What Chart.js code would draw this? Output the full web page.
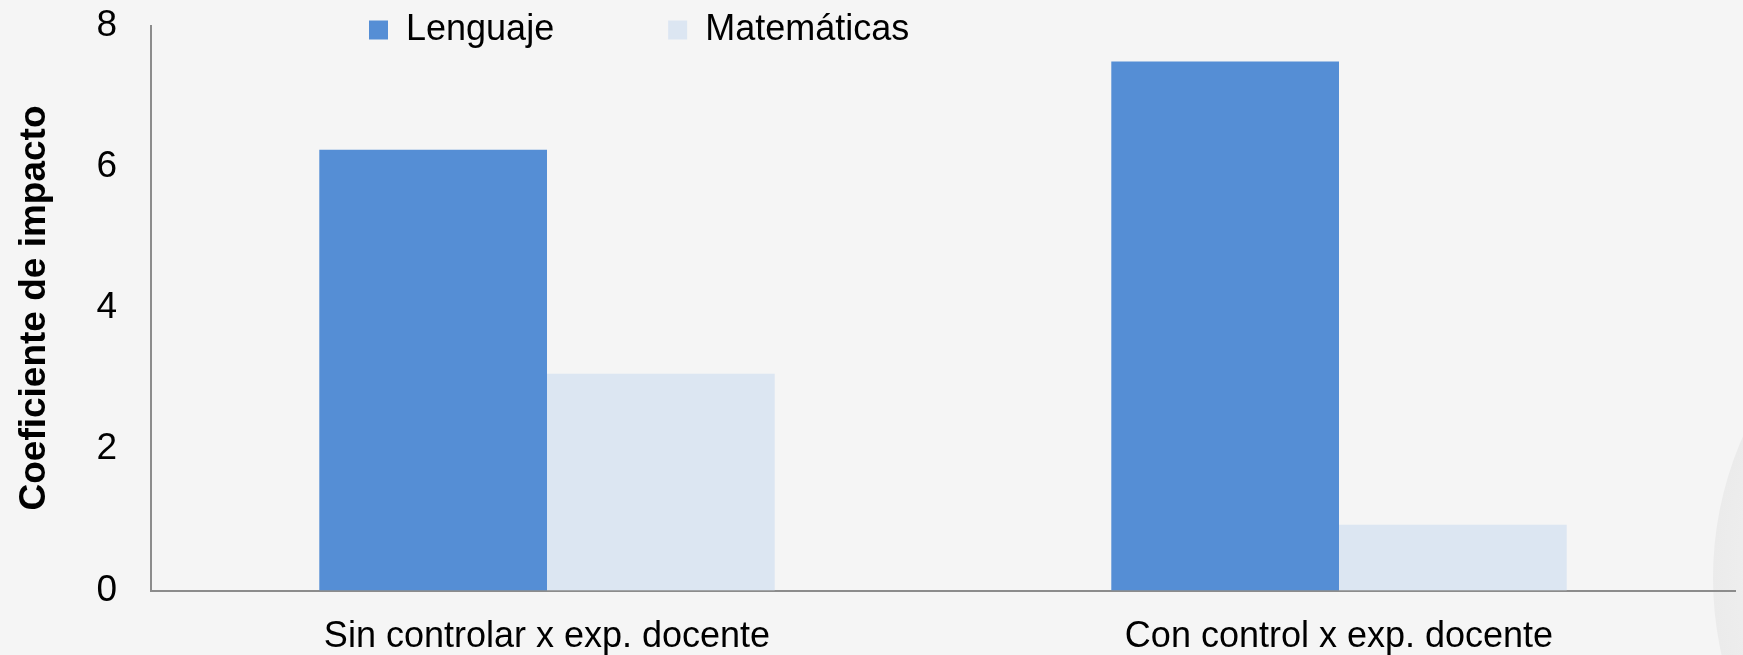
<!DOCTYPE html>
<html>
<head>
<meta charset="utf-8">
<script src="https://cdn.jsdelivr.net/npm/chart.js@4/dist/chart.umd.min.js"></script>
<style>
  html, body { margin: 0; padding: 0; background: #f5f5f5; }
  #wrap { width: 1743px; height: 655px; }
</style>
</head>
<body>
<div id="wrap"><canvas id="chart" width="1743" height="655"></canvas></div>
<script>
const categories = ['Sin controlar x exp. docente', 'Con control x exp. docente']
const lenguaje = [6.24, 7.49]
const matematicas = [3.07, 0.93]
const yTicks = [0, 2, 4, 6, 8]

Chart.defaults.font.family = "'Liberation Sans', Arial, sans-serif"
Chart.defaults.color = '#000'

// slide background with the faint round shape on the right edge
const backdrop = {
  id: 'backdrop',
  beforeDraw(chart) {
    const ctx = chart.ctx
    ctx.save()
    ctx.fillStyle = '#f5f5f5'
    ctx.fillRect(0, 0, chart.width, chart.height)
    const cx = chart.width + 320, cy = 578, r = 350
    const g = ctx.createRadialGradient(cx, cy, r * 0.6, cx, cy, r)
    g.addColorStop(0, '#f6f6f6')
    g.addColorStop(1, '#ebebeb')
    ctx.fillStyle = g
    ctx.beginPath()
    ctx.arc(cx, cy, r, 0, Math.PI * 2)
    ctx.fill()
    ctx.restore()
  }
}

// legend sits over the plot, left of centre, with a wide gap between items
const legendSpot = {
  id: 'legendSpot',
  afterLayout(chart) {
    const lg = chart.legend
    const pad = lg.options.labels.padding
    lg.left = 369 - pad
    lg.right = chart.width
    lg.top = 12 - pad
    lg.bottom = 70
  }
}

new Chart(document.getElementById('chart'), {
  type: 'bar',
  data: {
    labels: categories,
    datasets: [
      { label: 'Lenguaje', data: lenguaje, backgroundColor: '#558ed5' },
      { label: 'Matemáticas', data: matematicas, backgroundColor: '#dce6f2' }
    ]
  },
  options: {
    responsive: false,
    animation: false,
    layout: { padding: { left: 0, right: 8, top: 0, bottom: 0 } },
    datasets: {
      bar: { barPercentage: 1, categoryPercentage: 0.575 }
    },
    plugins: {
      tooltip: { enabled: false },
      legend: {
        position: 'top',
        align: 'start',
        maxHeight: 25.5,
        labels: {
          boxWidth: 19,
          boxHeight: 19,
          padding: 114,
          font: { size: 36 },
          color: '#000'
        }
      }
    },
    scales: {
      x: {
        grid: { display: false, drawTicks: false },
        border: { display: true, color: '#8c8c8c', width: 2 },
        ticks: { padding: 27, font: { size: 36, lineHeight: 1.1 }, color: '#000' },
        afterFit(scale) {
          scale.height = 64.5
          scale.paddingLeft = 0
          scale.paddingRight = 0
        }
      },
      y: {
        min: 0,
        max: 8,
        afterBuildTicks(scale) {
          scale.ticks = yTicks.map(v => ({ value: v }))
        },
        grid: { display: false, drawTicks: false },
        border: { display: true, color: '#8c8c8c', width: 2 },
        ticks: { padding: 34, font: { size: 37 }, color: '#000' },
        title: {
          display: true,
          text: 'Coeficiente de impacto',
          color: '#000',
          font: { size: 37, weight: 'bold' },
          padding: { top: 13, bottom: 0 }
        },
        afterFit(scale) {
          scale.width = 151
          scale.paddingTop = 0
          scale.paddingBottom = 0
        }
      }
    }
  },
  plugins: [backdrop, legendSpot]
})
</script>
</body>
</html>
